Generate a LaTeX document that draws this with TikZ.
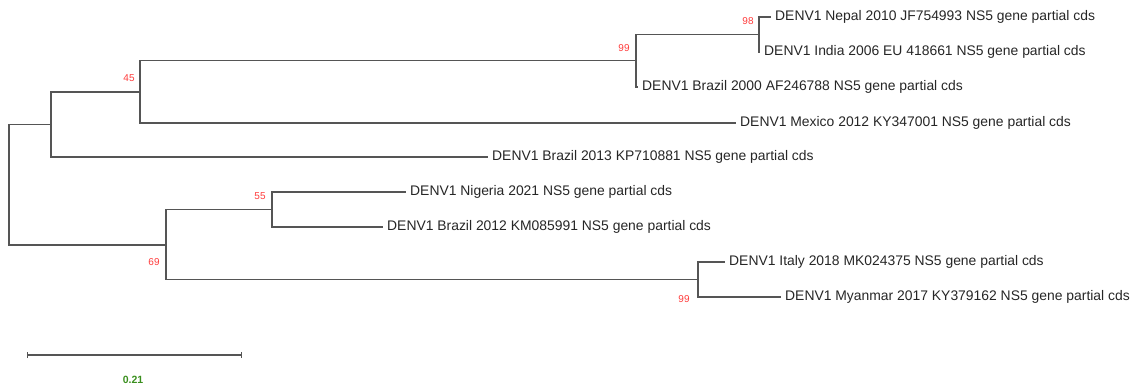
\documentclass[tikz,border=0pt]{standalone}
\usepackage{fontspec}
\setmainfont{Liberation Sans}
\usepackage{tikz}
\usetikzlibrary{arrows.meta,calc}
\definecolor{treegray}{HTML}{555555}
\definecolor{bootred}{HTML}{FF3B3B}
\definecolor{scalegreen}{HTML}{3A8F1E}
\tikzset{
  leaf/.style={anchor=west, inner sep=4pt, font=\fontsize{13.9}{16}\selectfont, text=black!85},
  boot/.style={inner sep=1pt, font=\fontsize{10}{12}\selectfont, text=bootred},
  branch/.style={draw=treegray, line width=1.1pt},
  scalebar/.style={draw=treegray, line width=2pt, {Bar[width=6pt,line width=1.2pt]}-{Bar[width=6pt,line width=1.2pt]}}
}
\begin{document}
\begin{tikzpicture}[x=1pt, y=-1pt]
  \useasboundingbox (0,0) rectangle (1131,388);
  % internal nodes
  \coordinate (root) at (9,184.5);
  \coordinate (nup) at (51,124.5);
  \coordinate (n45) at (140,92);
  \coordinate (n99a) at (636,60.5);
  \coordinate (n98) at (759,34.5);
  \coordinate (n69) at (166,245);
  \coordinate (n55) at (272,209.5);
  \coordinate (n99b) at (698,279.5);
  % leaves
  \node[leaf] (nepal) at (771,17) {DENV1 Nepal 2010 JF754993 NS5 gene partial cds};
  \node[leaf] (india) at (760,52) {DENV1 India 2006 EU 418661 NS5 gene partial cds};
  \node[leaf] (bra2000) at (638,87) {DENV1 Brazil 2000 AF246788 NS5 gene partial cds};
  \node[leaf] (mexico) at (736,123) {DENV1 Mexico 2012 KY347001 NS5 gene partial cds};
  \node[leaf] (bra2013) at (488,157) {DENV1 Brazil 2013 KP710881 NS5 gene partial cds};
  \node[leaf] (nigeria) at (406,192) {DENV1 Nigeria 2021 NS5 gene partial cds};
  \node[leaf] (bra2012) at (383,227) {DENV1 Brazil 2012 KM085991 NS5 gene partial cds};
  \node[leaf] (italy) at (725,262) {DENV1 Italy 2018 MK024375 NS5 gene partial cds};
  \node[leaf] (myanmar) at (781,297) {DENV1 Myanmar 2017 KY379162 NS5 gene partial cds};
  % branches
  \draw[branch] (root) |- (nup);
  \draw[branch] (root) |- (n69);
  \draw[branch] (nup) |- (n45);
  \draw[branch] (nup) |- (bra2013.west);
  \draw[branch] (n45) |- (n99a);
  \draw[branch] (n45) |- (mexico.west);
  \draw[branch] (n99a) |- (n98);
  \draw[branch] (n99a) |- (bra2000.west);
  \draw[branch] (n98) |- (nepal.west);
  \draw[branch] (n98) |- (india.west);
  \draw[branch] (n69) |- (n55);
  \draw[branch] (n69) |- (n99b);
  \draw[branch] (n55) |- (nigeria.west);
  \draw[branch] (n55) |- (bra2012.west);
  \draw[branch] (n99b) |- (italy.west);
  \draw[branch] (n99b) |- (myanmar.west);
  % bootstrap values
  \node[boot] (b98) at (748,21) {98};
  \node[boot] (b99a) at (624,48) {99};
  \node[boot] (b45) at (129,78) {45};
  \node[boot] (b55) at (260,196) {55};
  \node[boot] (b69) at (154,262) {69};
  \node[boot] (b99b) at (684,299) {99};
  % scale bar
  \coordinate (sbl) at (27,355);
  \coordinate (sbr) at (242,355);
  \draw[scalebar] (sbl) -- (sbr);
  \node[font=\fontsize{10.5}{12}\selectfont\bfseries, text=scalegreen] (sblabel) at (133,380) {0.21};
\end{tikzpicture}
\end{document}
